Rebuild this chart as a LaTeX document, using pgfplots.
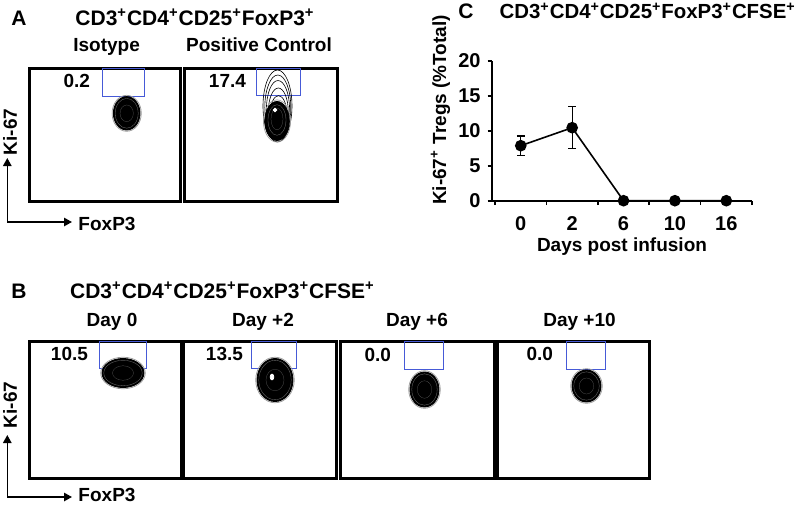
\documentclass[border=0pt]{standalone}
\usepackage{fontspec}
\setmainfont{Liberation Sans}
\usepackage{pgfplots}
\pgfplotsset{compat=1.18}
\usetikzlibrary{arrows.meta}
\definecolor{gate}{RGB}{70,90,215}
\newcommand{\fs}[1]{\fontsize{#1}{#1}\selectfont\bfseries}
% contour blob: cx cy rx ry (in px units of the panel)
\newcommand{\blob}[4]{%
 \addplot[only marks, mark=o, mark size={(#3+1.3)*0.5pt}, mark options={draw=gray!80, line width=0.35pt, yscale={(#4+1.3)/(#3+1.3)}}] coordinates {(#1,#2)};
 \addplot[only marks, mark=*, mark size={#3*0.5pt}, mark options={draw=black, fill=black, line width=0.45pt, yscale={#4/#3}}] coordinates {(#1,#2)};
 \addplot[only marks, mark=o, mark size={(#3-1.8)*0.5pt}, mark options={draw=black!55, line width=0.15pt, yscale={(#4-1.8)/(#3-1.8)}}] coordinates {(#1,#2)};
 \addplot[only marks, mark=o, mark size={(#3*0.5)*0.5pt}, mark options={draw=black!65, line width=0.12pt, yscale={#4/#3}}] coordinates {(#1,#2)};
}
\pgfplotsset{flowbox/.style={scale only axis, anchor=north west, xtick=\empty, ytick=\empty,
  y dir=reverse, axis line style={line width=1.5pt}, clip=false}}
\begin{document}
\begin{tikzpicture}
\useasboundingbox (0,0) rectangle (400pt,-252.5pt);
% ---------- Panel A ----------
\node[anchor=base, font=\fs{10.5}] at (9.5pt,-12.5pt) {A};
\node[anchor=base, font=\fs{10.5}] at (97.5pt,-12.5pt) {CD3\textsuperscript{+}CD4\textsuperscript{+}CD25\textsuperscript{+}FoxP3\textsuperscript{+}};
\node[anchor=base, font=\fs{9.5}] at (53.3pt,-25.8pt) {Isotype};
\node[anchor=base, font=\fs{9.5}] at (129.5pt,-25.8pt) {Positive Control};
\begin{axis}[flowbox, at={(14.75pt,-34pt)}, width=75.5pt, height=66.5pt,
  xmin=29.5, xmax=180.5, ymin=68, ymax=201]
 \blob{126.7}{113.3}{13.3}{16.7}
 \addplot[gate, line width=0.5pt] coordinates {(102.3,68) (144,68) (144,96.7) (102.3,96.7) (102.3,68)};
 \node[anchor=base east, font=\fs{9.5}] at (axis cs:97,87.3) {0.2};
\end{axis}
\begin{axis}[flowbox, at={(92.5pt,-34pt)}, width=76.5pt, height=66.5pt,
  xmin=185, xmax=338, ymin=68, ymax=201]
 \addplot[only marks, mark=o, mark size=7.25pt, mark options={draw=black, line width=0.3pt, yscale=2.48}] coordinates {(277.5,106)};
 \addplot[only marks, mark=o, mark size=6.5pt, mark options={draw=black, line width=0.3pt, yscale=2.5}] coordinates {(277.8,107.5)};
 \addplot[only marks, mark=o, mark size=5.8pt, mark options={draw=black, line width=0.3pt, yscale=2.5}] coordinates {(278,109.5)};
 \addplot[only marks, mark=o, mark size=5pt, mark options={draw=black, line width=0.3pt, yscale=2.4}] coordinates {(278.3,112)};
 \addplot[only marks, mark=o, mark size=4.2pt, mark options={draw=black, line width=0.3pt, yscale=2.25}] coordinates {(278.5,114.5)};
 \addplot[only marks, mark=o, mark size=6.8pt, mark options={draw=gray!75, line width=0.35pt, yscale=1.55}] coordinates {(277,121)};
 \addplot[only marks, mark=*, mark size=6.1pt, mark options={draw=black, fill=black, yscale=1.6}] coordinates {(277,121)};
 \addplot[only marks, mark=o, mark size=4.5pt, mark options={draw=black!55, line width=0.15pt, yscale=1.7}] coordinates {(277,120)};
 \addplot[only marks, mark=o, mark size=3pt, mark options={draw=black!65, line width=0.12pt, yscale=1.8}] coordinates {(277,119)};
 \addplot[only marks, mark=*, mark size=0.9pt, mark options={draw=white, fill=white}] coordinates {(275,110)};
 \addplot[gate, line width=0.5pt] coordinates {(256.7,68) (300.7,68) (300.7,95.7) (256.7,95.7) (256.7,68)};
 \node[anchor=base east, font=\fs{9.5}] at (axis cs:253,87.3) {17.4};
\end{axis}
\draw[line width=0.75pt, {Triangle[length=4pt,width=4.2pt]}-{Triangle[length=4pt,width=4.2pt]}] (3.65pt,-79pt) -- (3.65pt,-111pt) -- (36pt,-111pt);
\node[rotate=90, font=\fs{9.5}] at (5pt,-66pt) {Ki-67};
\node[anchor=base, font=\fs{9.5}] at (53.5pt,-115pt) {FoxP3};
% ---------- Panel B ----------
\node[anchor=base, font=\fs{10.5}] at (9.5pt,-149pt) {B};
\node[anchor=base, font=\fs{10.5}] at (111.25pt,-149pt) {CD3\textsuperscript{+}CD4\textsuperscript{+}CD25\textsuperscript{+}FoxP3\textsuperscript{+}CFSE\textsuperscript{+}};
\node[anchor=base, font=\fs{9.5}] at (56pt,-163pt) {Day 0};
\node[anchor=base, font=\fs{9.5}] at (131.5pt,-163pt) {Day +2};
\node[anchor=base, font=\fs{9.5}] at (208.5pt,-163pt) {Day +6};
\node[anchor=base, font=\fs{9.5}] at (289.75pt,-163pt) {Day +10};
\begin{axis}[flowbox, at={(14.5pt,-170.5pt)}, width=76pt, height=68.5pt,
  xmin=29, xmax=181, ymin=341, ymax=478]
 \blob{123}{373}{21}{14.5}
 \addplot[gate, line width=0.5pt] coordinates {(99,341) (146,341) (146,368.5) (99,368.5) (99,341)};
 \node[anchor=base east, font=\fs{9.5}] at (axis cs:95,360) {10.5};
\end{axis}
\begin{axis}[flowbox, at={(92pt,-170.5pt)}, width=76.5pt, height=68.5pt,
  xmin=184, xmax=337, ymin=341, ymax=478]
 \blob{275}{380}{18}{21.5}
 \addplot[only marks, mark=*, mark size=0.9pt, mark options={draw=white, fill=white, yscale=1.6}] coordinates {(272,377)};
 \addplot[gate, line width=0.5pt] coordinates {(252,341) (297,341) (297,368) (252,368) (252,341)};
 \node[anchor=base east, font=\fs{9.5}] at (axis cs:250,360) {13.5};
\end{axis}
\begin{axis}[flowbox, at={(170pt,-170.5pt)}, width=77pt, height=68.5pt,
  xmin=340, xmax=494, ymin=341, ymax=478]
 \blob{424.5}{389.5}{14.5}{17.5}
 \addplot[gate, line width=0.5pt] coordinates {(404,341) (443,341) (443,369) (404,369) (404,341)};
 \node[anchor=base east, font=\fs{9.5}] at (axis cs:398,361) {0.0};
\end{axis}
\begin{axis}[flowbox, at={(248.5pt,-170.5pt)}, width=76pt, height=68.5pt,
  xmin=497, xmax=649, ymin=341, ymax=478]
 \blob{586.5}{386}{14.5}{16}
 \addplot[gate, line width=0.5pt] coordinates {(566,341) (605,341) (605,369) (566,369) (566,341)};
 \node[anchor=base east, font=\fs{9.5}] at (axis cs:560,360) {0.0};
\end{axis}
\draw[line width=0.75pt, {Triangle[length=4pt,width=4.2pt]}-{Triangle[length=4pt,width=4.2pt]}] (3.65pt,-217.5pt) -- (3.65pt,-248.5pt) -- (36pt,-248.5pt);
\node[rotate=90, font=\fs{9.5}] at (5pt,-202.5pt) {Ki-67};
\node[anchor=base, font=\fs{9.5}] at (53.5pt,-250.8pt) {FoxP3};
% ---------- Panel C ----------
\node[anchor=base, font=\fs{10.5}] at (233pt,-9.15pt) {C};
\node[anchor=base west, font=\fs{10.2}] at (246.3pt,-9.15pt) {CD3\textsuperscript{+}CD4\textsuperscript{+}CD25\textsuperscript{+}FoxP3\textsuperscript{+}CFSE\textsuperscript{+}};
\begin{axis}[at={(246pt,-100.35pt)}, anchor=south west, scale only axis,
  width=130pt, height=70pt, xmin=-0.56, xmax=4.5, ymin=0, ymax=20, clip=false,
  axis x line*=bottom, axis y line*=left,
  axis line style={line width=0.8pt, black},
  xtick={-0.5,0.5,1.5,2.5,3.5,4.5}, xticklabels={,,,,,},
  extra x ticks={0,1,2,3,4}, extra x tick labels={0,2,6,10,16},
  extra x tick style={major tick length=0pt, xticklabel style={anchor=base, yshift=-15pt}},
  ytick={0,5,10,15,20},
  tick align=outside, major tick length=2.2pt,
  tick style={line width=0.8pt, black},
  ticklabel style={font=\fs{10}},
  xlabel={Days post infusion}, ylabel={Ki-67\textsuperscript{+} Tregs (\%Total)},
  label style={font=\fs{9.5}},
  xlabel style={at={(axis description cs:0.5,-0.366)}, anchor=base},
  ylabel style={at={(axis description cs:-0.198,0.648)}, anchor=center},
  /pgf/number format/assume math mode=true]
 \addplot[black, line width=0.8pt, mark=*, mark size=2.5pt,
   error bars/.cd, y dir=both, y explicit,
   error bar style={line width=0.6pt, black},
   error mark=-,
   error mark options={rotate=90, black, mark size=2pt, line width=0.6pt}]
   coordinates {(0,7.86) +- (0,1.38) (1,10.43) +- (0,3.0) (2,0) +- (0,0) (3,0) +- (0,0) (4,0) +- (0,0)};
\end{axis}
\end{tikzpicture}
\end{document}
